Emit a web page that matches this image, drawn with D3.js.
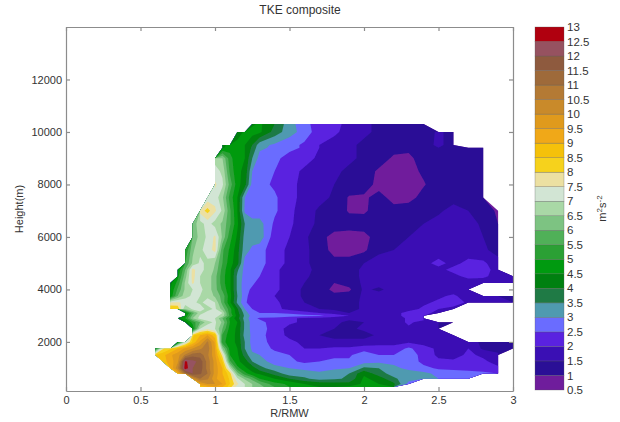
<!DOCTYPE html>
<html>
<head>
<meta charset="utf-8">
<title>TKE composite</title>
<script src="https://cdn.jsdelivr.net/npm/d3@7"></script>
<style>
    html, body { margin: 0; padding: 0; background: #fff; }
    text { font-family: "Liberation Sans", Arial, sans-serif; fill: #333; }
    .axis path, .axis line { stroke: #8c8c8c; stroke-width: 1.2; }
    .axis text { font-size: 11px; }
</style>
</head>
<body>
<div id="chart"></div>
<script>
const _ = null; // no data

// Grid the composite is read on (not uniform, finer near the eyewall and the 3 km streak)
const rGrid = [0.55, 0.6, 0.65, 0.7, 0.75, 0.8, 0.85, 0.9, 0.95, 1, 1.05, 1.1, 1.15, 1.2, 1.25, 1.3,
    1.4, 1.5, 1.6, 1.7, 1.8, 1.9, 2, 2.1, 2.2, 2.3, 2.4, 2.5, 2.6, 2.7, 2.8, 2.9, 3];
const heightGrid = [10300, 10000, 9500, 9400, 9000, 8500, 8000, 7500, 7000, 6500, 6000, 5500, 5000, 4750, 4500, 4250, 4000,
    3750, 3500, 3250, 3100, 3000, 2900, 2750, 2500, 2250, 2000, 1750, 1500, 1250, 1000, 800, 600, 400, 280];

const tke10300 = [_,_,_,_,_,_,_,_,_,_,_,_,_,_, 4.4,4.6, 4.0,3.2,2.7,2.2,2.1,1.9,1.6,1.4,1.3,1.3,1.3, _,_,_,_,_,_];
const tke10000 = [_,_,_,_,_,_,_,_,_,_,_,_, 4.2,4.6,4.7,4.6, 3.8,3.2,2.8,2.2,2.1,1.8,1.6,1.4,1.3,1.3,1.2,1.6,1.3, _,_,_,_];
const tke9500 = [_,_,_,_,_,_,_,_,_,_, 4.3,4.7,4.7,4.5,4.0,3.2, 2.9,2.7,2.4,2.0,1.8,1.6,1.4,1.3,1.2,1.1,1.3,1.6,1.3, _,_,_,_];
const tke9400 = [_,_,_,_,_,_,_,_,_,_, 4.4,4.8,4.7,4.5,3.9,3.1, 2.9,2.7,2.4,2.0,1.8,1.6,1.4,1.3,1.2,1.1,1.3,1.5,1.3,1.3,1.3, _,_];
const tke9000 = [_,_,_,_,_,_,_,_,_, 6.8,6.5,5.2,4.6,4.5,3.5,2.8, 2.7,2.2,2.2,1.9,1.7,1.6,1.4,1.3,0.9,0.9,1.2,1.3,1.3,1.3,1.3, _,_];
const tke8500 = [_,_,_,_,_,_,_,_,_, 7.2,6.9,5.4,4.6,4.4,3.0,2.7, 2.5,2.2,1.9,1.8,1.6,1.4,1.3,0.9,0.8,0.8,1.1,1.3,1.3,1.3,1.3, _,_];
const tke8000 = [_,_,_,_,_,_,_,_,_, 7.6,7.1,5.8,4.7,4.2,2.8,2.7, 2.4,2.1,1.9,1.8,1.5,1.3,1.3,0.8,0.7,0.7,0.95,1.3,1.3,1.3,1.3, _,_];
const tke7500 = [_,_,_,_,_,_,_,_, 7.2,7.3,6.6,5.3,4.5,3.0,2.7,2.7, 2.6,2.1,1.9,1.7,1.4,0.95,0.9,1.2,0.8,0.8,1.2,1.3,1.3,1.3,1.3, _,_];
const tke7000 = [_,_,_,_,_,_,_, 7.7,8.2,7.6,6.9,5.6,4.5,2.9,2.7,2.7, 2.6,2.1,1.8,1.4,1.3,0.95,0.9,1.3,1.2,1.3,1.3,1.4,1.7,1.5,1.3,0.9, _];
const tke6500 = [_,_,_,_,_,_, 6.2,6.8,7.2,6.8,6.4,5.6,4.6,3.5,3.2,3.2, 2.4,2.1,1.7,1.4,1.3,1.2,1.3,1.4,1.4,1.4,1.5,1.7,1.8,1.7,1.4,1.0, _];
const tke6000 = [_,_,_,_,_,_, 6.1,6.7,7.1,7.6,6.4,5.2,4.4,3.3,3.2,3.3, 2.2,2.0,1.6,1.2,0.8,0.8,0.8,1.3,1.4,1.5,1.6,1.7,1.8,1.8,1.5,1.2, _];
const tke5500 = [_,_,_,_,_, 5.0,6.4,6.9,7.2,7.7,5.6,4.9,4.2,3.2,2.9,2.7, 2.2,1.9,1.6,1.3,0.8,0.8,0.9,1.4,1.5,1.6,1.7,1.8,1.8,1.8,1.6,1.3, _];
const tke5000 = [_,_,_,_,_, 5.5,6.6,7.1,6.9,6.5,5.5,4.7,4.2,2.8,2.7,2.7, 2.2,1.9,1.6,1.3,1.2,1.2,1.5,1.7,1.7,1.8,1.9,2.1,1.9,2.1,2.1,1.7, _];
const tke4750 = [_,_,_,_, 4.5,6.0,7.7,7.1,6.9,6.4,5.3,4.6,3.6,2.8,2.7,2.6, 2.1,1.8,1.6,1.4,1.3,1.3,1.6,1.7,1.7,1.8,1.9,1.9,2.1,2.2,2.2,1.8, _];
const tke4500 = [_,_,_,_, 4.8,6.3,7.7,7.0,6.8,6.2,5.2,4.6,3.4,2.8,2.7,2.5, 2.1,1.8,1.6,1.3,1.2,1.3,1.6,1.7,1.7,1.8,1.8,1.8,1.9,2.1,2.1,1.8,1.6];
const tke4250 = [_,_,_, 4.3,5.2,6.6,7.6,7.0,6.8,6.2,5.2,4.6,3.4,2.7,2.6,2.3, 2.1,1.8,1.5,1.2,1.0,1.2,1.6,1.7,1.7,1.7,1.7,1.7,1.8,1.8,1.7,1.6,1.5];
const tke4000 = [_,_,_, 4.5,5.6,6.6,7.0,7.1,6.8,6.2,5.4,4.6,3.4,2.7,2.4,2.2, 2.1,1.8,1.4,1.2,0.9,0.9,1.6,1.4,1.7,1.7,1.7,1.7,1.7,1.7, _,_,_];
const tke3750 = [_,_,_, 4.6,6.0,6.8,7.1,7.0,6.9,6.4,5.8,4.7,3.5,2.7,2.2,2.2, 2.0,1.8,1.4,1.2,1.1,1.2,1.6,1.7,1.7,1.7,1.8,1.9,2.1,1.7,1.6,1.5,1.4];
const tke3500 = [_,_,_, 7.5,7.6,7.3,7.1,6.9,7.2,7.0,5.8,4.6,3.4,2.6,2.2,2.2, 2.1,1.8,1.5,1.3,1.2,1.3,1.6,1.7,1.7,1.8,1.9,2.1,2.3,1.9,1.7,1.6,1.5];
const tke3250 = [_,_,_, 8.6,8.4,6.5,7.1,7.3,6.8,7.1,6.3,5.2,4.1,3.0,2.5,2.2, 2.1,1.9,1.7,1.5,1.4,1.3,1.6,1.7,1.7,1.8,2.1,2.0,1.8, _,_,_,_];
const tke3100 = [_,_,_,_,_, 4.2,5.8,6.8,7.2,7.4,7.0,5.2,4.2,3.3,2.6,2.5, 2.5,2.4,2.2,2.0,1.8,1.5,1.7,1.8,1.8,2.2,2.2,1.8, _,_,_,_,_];
const tke3000 = [_,_,_,_,_, 4.5,6.2,7.1,7.4,7.2,6.8,5.4,4.3,3.4,2.8,2.8, 2.9,2.8,2.7,2.6,2.3,2.0,1.9,1.8,1.8,2.2,2.2, _,_,_,_,_,_];
const tke2900 = [_,_,_, 4.0,4.3,5.0,6.5,7.2,7.3,7.0,6.0,4.9,4.2,3.3,2.7,2.4, 2.3,2.1,1.9,1.8,1.7,1.6,1.6,1.7,1.7,2.1,2.2, _,_,_,_,_,_];
const tke2750 = [_,_,_,_,_, 4.2,5.2,6.0,6.8,7.1,6.4,5.0,4.5,3.4,2.8,2.7, 2.2,2.1,1.9,1.8,1.6,1.4,1.5,1.7,1.7,2.1,1.8,1.5,1.3,1.2, _,_,_];
const tke2500 = [_,_,_,_,_,_, 4.6,7.0,7.4,7.0,6.0,4.8,4.4,3.4,2.8,2.7, 2.3,1.8,1.6,1.6,1.5,1.4,1.6,1.6,1.8,1.9,1.8,1.7, _,_,_,_,_];
const tke2250 = [_,_,_,_,_,_, 8.4,9.0,9.5,8.7,5.4,4.7,4.4,3.3,2.9,2.7, 2.2,1.9,1.6,1.5,1.4,1.4,1.3,1.6,1.7,1.7,1.9,1.8,1.7, _,_,_,_];
const tke2000 = [_,_,_,_, 4.5,7.0,8.6,9.6,10.6,9.4,5.2,4.7,4.4,3.5,2.8,2.7, 2.3,2.1,1.9,1.7,1.6,1.6,1.7,1.8,1.8,1.9,1.8,1.8,1.8,1.7,1.4,1.3,1.3];
const tke1750 = [_, 5.0,7.9,8.4,9.0,9.6,10.0,10.4,10.8,9.5,6.5,4.8,4.5,3.5,2.9,2.8, 2.4,2.2,2.0,2.0,2.1,2.1,2.2,2.2,2.2,2.6,2.2,1.9,1.8,2.0,1.4,1.3,1.3];
const tke1500 = [_, 8.5,8.8,9.4,9.8,10.6,11.3,11.3,10.6,9.6,7.8,5.0,4.6,3.8,3.1,3.0, 2.7,2.5,2.3,2.2,2.3,2.4,2.9,2.5,2.5,2.8,2.3,1.9,1.8,2.1,1.9,1.6, _];
const tke1250 = [_,_, 8.8,9.2,9.9,12.6,12.2,11.8,10.8,9.8,8.5,5.6,4.6,4.3,3.5,3.2, 2.8,2.6,2.4,2.5,2.7,2.6,2.8,2.9,2.9,2.9,2.3,2.1,2.1,2.2,2.1,1.8, _];
const tke1000 = [_,_,_, 9.0,10.4,12.8,12.0,11.8,10.8,9.8,9.0,7.0,5.2,4.6,4.3,3.7, 3.2,3.0,2.9,2.8,2.9,3.0,3.6,3.5,3.1,2.9,2.7,2.4,2.4,2.4,2.3,2.1, _];
const tke800 = [_,_,_,_, 9.2,11.2,12.0,11.6,11.0,9.8,9.0,8.2,6.2,5.2,4.6,4.4, 3.8,3.2,3.2,3.1,3.3,3.5,4.4,3.7,3.3,3.2,3.1,2.9,2.7,2.6,2.6,2.5, _];
const tke600 = [_,_,_,_,_,_, 10.0,11.0,10.6,9.6,9.2,8.4,7.1,6.4,5.8,5.0, 4.5,4.0,3.6,3.3,3.4,3.6,4.6,4.3,3.6,3.2,3.1,3.0,2.8,2.6, _,_,_];
const tke400 = [_,_,_,_,_,_,_, 9.5,10.0,10.0,9.5,8.5,7.6,7.0,6.5,6.0, 5.2,4.9,4.5,4.3,4.2,4.2,4.6,4.5,4.1,2.8, _,_,_,_,_,_,_];
const tke280 = [_,_,_,_,_,_,_, 8.6,9.0,9.4,9.0,8.2,7.2,7.0,6.5,6.2, 5.5,5.0,4.8,4.5,4.5,4.6,4.8,4.6,4.5, _,_,_,_,_,_,_,_];

const tkeRows = [tke10300, tke10000, tke9500, tke9400, tke9000, tke8500, tke8000, tke7500, tke7000, tke6500, tke6000, tke5500,
    tke5000, tke4750, tke4500, tke4250, tke4000, tke3750, tke3500, tke3250, tke3100, tke3000, tke2900, tke2750, tke2500,
    tke2250, tke2000, tke1750, tke1500, tke1250, tke1000, tke800, tke600, tke400, tke280];

const levels = d3.range(0.5, 13.01, 0.5);
const bandColors = ['#6f1d9c', '#2a0f96', '#3a0fb4', '#5a22e0', '#6a6cff', '#4f9ab0', '#1f7a45', '#008010', '#009a10',
    '#2ba034', '#50b058', '#7dc382', '#a9d8a6', '#d2e5d4', '#ece0a2', '#f6d21c', '#f5c10a', '#f0a818', '#e09a1c',
    '#c98a2a', '#b47a34', '#9e6a3a', '#8e5a3e', '#965260', '#b0000f'];

const xTicks = [0, 0.5, 1, 1.5, 2, 2.5, 3];
const yTicks = [2000, 4000, 6000, 8000, 10000, 12000];

const svgWidth = 620, svgHeight = 422;
const plot = { left: 66, right: 513, top: 27, bottom: 391 };
const bar = { left: 535, right: 564, top: 27, bottom: 390 };

const svg = d3.select('#chart').append('svg')
    .attr('width', svgWidth)
    .attr('height', svgHeight)
    .style('display', 'block');

svg.append('defs').append('filter')
    .attr('id', 'soft')
    .append('feGaussianBlur')
    .attr('stdDeviation', 0.6);

const x = d3.scaleLinear().domain([0, 3]).range([plot.left, plot.right]);
const y = d3.scaleLinear().domain([130, 14000]).range([plot.bottom, plot.top]);

// Contour coordinates are grid cells, the values sit on cell centres
const colToR = d3.scaleLinear().domain(d3.range(rGrid.length)).range(rGrid).clamp(true);
const rowToHeight = d3.scaleLinear().domain(d3.range(heightGrid.length)).range(heightGrid).clamp(true);

const contours = d3.contours()
    .size([rGrid.length, heightGrid.length])
    .thresholds(levels.slice(0, -1))(tkeRows.flat());

const path = d3.geoPath(d3.geoTransform({
    point(cx, cy) {
        this.stream.point(x(colToR(cx - 0.5)), y(rowToHeight(cy - 0.5)));
    }
}));

svg.append('g')
    .attr('filter', 'url(#soft)')
    .selectAll('path')
    .data(contours)
    .enter()
    .append('path')
    .attr('d', path)
    .attr('fill', (d, i) => bandColors[i]);

// Axes on all four sides, MATLAB style with inward ticks
svg.append('g')
    .attr('class', 'axis')
    .attr('transform', `translate(0,${plot.bottom})`)
    .call(d3.axisBottom(x).tickValues(xTicks).tickFormat(d3.format('')).tickSizeInner(-4).tickSizeOuter(0).tickPadding(5));

svg.append('g')
    .attr('class', 'axis')
    .attr('transform', `translate(0,${plot.top})`)
    .call(d3.axisTop(x).tickValues(xTicks).tickFormat('').tickSizeInner(-4).tickSizeOuter(0));

svg.append('g')
    .attr('class', 'axis')
    .attr('transform', `translate(${plot.left},0)`)
    .call(d3.axisLeft(y).tickValues(yTicks).tickFormat(d3.format('d')).tickSizeInner(-4).tickSizeOuter(0).tickPadding(4));

svg.append('g')
    .attr('class', 'axis')
    .attr('transform', `translate(${plot.right},0)`)
    .call(d3.axisRight(y).tickValues(yTicks).tickFormat('').tickSizeInner(-4).tickSizeOuter(0));

svg.append('text')
    .attr('x', 300)
    .attr('y', 14)
    .attr('text-anchor', 'middle')
    .style('font-size', '12px')
    .text('TKE composite');

svg.append('text')
    .attr('x', (plot.left + plot.right) / 2)
    .attr('y', 417)
    .attr('text-anchor', 'middle')
    .style('font-size', '11px')
    .text('R/RMW');

svg.append('text')
    .attr('transform', `translate(23,${(plot.top + plot.bottom) / 2}) rotate(-90)`)
    .attr('text-anchor', 'middle')
    .style('font-size', '11px')
    .text('Height(m)');

// Colour bar, one equal step per level
const barY = d3.scalePoint().domain(levels).range([bar.bottom, bar.top]);

svg.append('g')
    .selectAll('rect')
    .data(bandColors)
    .enter()
    .append('rect')
    .attr('x', bar.left)
    .attr('y', (d, i) => barY(levels[i + 1]))
    .attr('width', bar.right - bar.left)
    .attr('height', barY.step())
    .attr('fill', d => d)
    .attr('stroke', '#5a5a5a')
    .attr('stroke-width', 0.5)
    .attr('stroke-opacity', 0.6);

svg.append('g')
    .selectAll('text')
    .data(levels)
    .enter()
    .append('text')
    .attr('x', bar.right + 3)
    .attr('y', d => barY(d))
    .attr('dy', '0.35em')
    .style('font-size', '11.5px')
    .text(d => d);

const unit = svg.append('text')
    .attr('transform', `translate(606,${(bar.top + bar.bottom) / 2}) rotate(-90)`)
    .attr('text-anchor', 'middle')
    .style('font-size', '11px');
unit.append('tspan').text('m');
unit.append('tspan').attr('dy', -4).style('font-size', '8px').text('2');
unit.append('tspan').attr('dy', 4).text('s');
unit.append('tspan').attr('dy', -4).style('font-size', '8px').text('-2');
</script>
</body>
</html>
